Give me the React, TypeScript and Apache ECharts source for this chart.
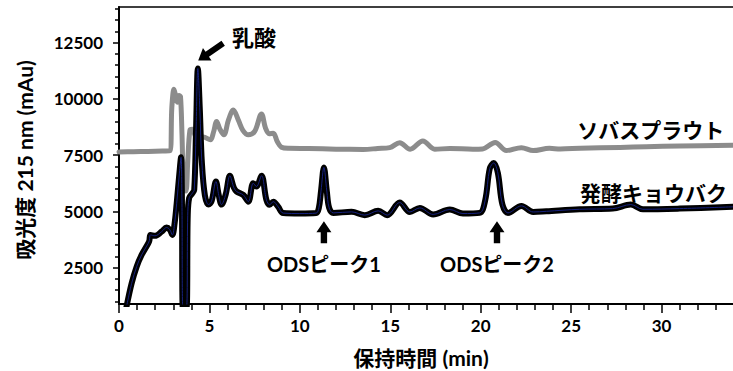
import React, { useEffect, useRef } from "react";
import * as echarts from "echarts";

const FONT = "Lato, 'Noto Sans CJK JP', sans-serif";

// Axis ranges and ticks
const xMin = 0;
const xMax = 35; // grid extends past the window; visible range ends near 34
const xInterval = 5;
const yMin = 880;
const yMax = 14080;
const yMajorTicks = [2500, 5000, 7500, 10000, 12500];
const yMinorTicks = [
  1000, 1500, 2000, 3000, 3500, 4000, 4500, 5500, 6000, 6500, 7000, 8000, 8500,
  9000, 9500, 10500, 11000, 11500, 12000, 13000, 13500, 14000,
];

// ソバスプラウト (retention time [min], absorbance [mAu])
const sobaSprout: [number, number][] = [
  [0, 7640], [0.8, 7650], [1.6, 7660], [2.4, 7680], [2.82, 7690], [2.92, 9600],
  [3.04, 10420], [3.14, 10100], [3.22, 9850], [3.32, 10150], [3.4, 10100],
  [3.48, 8500], [3.58, 6000], [3.7, 5900], [3.8, 7200], [3.92, 8600],
  [4.05, 8650], [4.3, 8280], [4.66, 8300], [5.05, 8180], [5.22, 8500],
  [5.4, 8990], [5.58, 8650], [5.8, 8400], [6.05, 9050], [6.32, 9500],
  [6.6, 9050], [6.85, 8600], [7.15, 8400], [7.5, 8550], [7.88, 9330],
  [8.1, 8700], [8.3, 8450], [8.53, 8470], [8.75, 8100], [8.98, 7850],
  [9.4, 7800], [10.5, 7790], [12, 7760], [13.5, 7750], [14.3, 7790],
  [14.97, 7830], [15.52, 8050], [16.1, 7760], [16.8, 8130], [17.46, 7760],
  [18.3, 7790], [19.57, 7760], [20.1, 7770], [20.8, 8060], [21.42, 7700],
  [22.25, 7830], [22.9, 7700], [23.8, 7800], [24.4, 7770], [25.5, 7800],
  [27.7, 7840], [29.15, 7870], [31, 7900], [34, 7940],
];

// 発酵キョウバク
const fermented: [number, number][] = [
  [0.4, 700], [0.7, 1800], [0.98, 2550], [1.25, 3060], [1.62, 3580], [1.68, 3700],
  [1.74, 3950], [1.99, 3910], [2.36, 4100], [2.63, 4280], [2.81, 4180],
  [2.95, 3950], [3.08, 4500], [3.19, 5360], [3.34, 6700], [3.43, 7400],
  [3.48, 5500], [3.53, 700], [3.73, 700], [3.8, 4800], [3.88, 5600],
  [4.05, 5800], [4.16, 5950], [4.26, 8600], [4.36, 11350], [4.47, 9500],
  [4.58, 7200], [4.75, 5700], [4.95, 5300], [5.12, 5450], [5.36, 6320],
  [5.52, 5700], [5.67, 5300], [5.9, 5750], [6.13, 6580], [6.35, 6050],
  [6.5, 5880], [6.87, 5730], [7.15, 5430], [7.42, 6250], [7.6, 6100],
  [7.88, 6580], [8.15, 5510], [8.33, 5290], [8.53, 5430], [8.8, 5200],
  [9.08, 4920], [10.0, 4900], [10.9, 4920], [11.05, 5150], [11.17, 5900],
  [11.33, 6950], [11.49, 5900], [11.62, 5150], [11.85, 4930], [12.86, 4975],
  [13.59, 4830], [14.33, 5020], [14.83, 4830], [15.52, 5390], [16.08, 4970],
  [16.63, 5150], [17.37, 4860], [18.29, 5080], [19.02, 4900], [19.94, 4930],
  [20.25, 5500], [20.5, 6900], [20.72, 7150], [20.95, 6700], [21.2, 5300],
  [21.51, 4930], [22.25, 5240], [22.9, 4970],
  [23.63, 5000], [25.47, 5090], [27.3, 5120], [28.3, 5300], [28.97, 5090],
  [31, 5120], [34, 5200],
];

// Annotations (data coordinates)
const seriesLabels = [
  { text: "ソバスプラウト", at: [29.4, 8620] },
  { text: "発酵キョウバク", at: [29.56, 5840] },
];
const peakLabels = [
  { text: "ODSピーク1", at: [11.33, 2660] },
  { text: "ODSピーク2", at: [20.9, 2660] },
];
const peakArrows = [
  { from: [11.33, 3580], to: [11.33, 4560] },
  { from: [20.9, 3580], to: [20.9, 4560] },
];
const lacticArrow = { from: [5.76, 12470], to: [4.38, 11700] };
const lacticLabel = { text: "乳酸", at: [7.46, 12710] };

const xTitle = "保持時間 (min)";
const yTitle = "吸光度 215 nm (mAu)";

function arrowPolygon(
  tail: number[],
  tip: number[],
  headLen: number,
  headHalf: number,
  shaftHalf: number
): number[][] {
  const dx = tip[0] - tail[0];
  const dy = tip[1] - tail[1];
  const len = Math.hypot(dx, dy) || 1;
  const ux = dx / len;
  const uy = dy / len;
  const nx = -uy;
  const ny = ux;
  const bx = tip[0] - ux * headLen;
  const by = tip[1] - uy * headLen;
  return [
    [tip[0], tip[1]],
    [bx + nx * headHalf, by + ny * headHalf],
    [bx + nx * shaftHalf, by + ny * shaftHalf],
    [tail[0] + nx * shaftHalf, tail[1] + ny * shaftHalf],
    [tail[0] - nx * shaftHalf, tail[1] - ny * shaftHalf],
    [bx - nx * shaftHalf, by - ny * shaftHalf],
    [bx - nx * headHalf, by - ny * headHalf],
  ];
}

export default function App() {
  const ref = useRef<HTMLDivElement>(null);

  useEffect(() => {
    if (!ref.current) return;
    const chart = echarts.init(ref.current, undefined, { renderer: "svg" });

    const tickStyle = { color: "#000", width: 1.5 };
    const lineBase = {
      type: "line",
      symbol: "none",
      smooth: 0.35,
      silent: true,
    };
    const option: any = {
      animation: false,
      grid: {
        left: 119,
        top: 7,
        width: 633,
        height: 297,
        show: true,
        borderColor: "#000",
        borderWidth: 1.5,
        backgroundColor: "transparent",
        outerBoundsMode: "none",
        containLabel: false,
      },
      xAxis: {
        type: "value",
        min: xMin,
        max: xMax,
        interval: xInterval,
        axisLine: { show: true, onZero: false, lineStyle: { color: "#000", width: 2 } },
        axisTick: { show: true, length: 9, lineStyle: tickStyle },
        minorTick: { show: true, splitNumber: 5, length: 6, lineStyle: tickStyle },
        axisLabel: {
          color: "#000",
          fontFamily: FONT,
          fontWeight: "bold",
          fontSize: 17,
          margin: 13,
          showMaxLabel: false,
          formatter: (v: number) => (v >= xMax ? "" : String(v)),
        },
        splitLine: { show: false },
        minorSplitLine: { show: false },
      },
      yAxis: [
        {
          type: "value",
          min: yMin,
          max: yMax,
          axisLine: { show: true, onZero: false, lineStyle: { color: "#000", width: 2 } },
          axisTick: { show: true, length: 6, customValues: yMajorTicks, lineStyle: tickStyle },
          axisLabel: {
            customValues: yMajorTicks,
            color: "#000",
            fontFamily: FONT,
            fontWeight: "bold",
            fontSize: 17,
            margin: 16,
            formatter: (v: number) => String(v),
          },
          splitLine: { show: false },
        },
        {
          type: "value",
          min: yMin,
          max: yMax,
          position: "left",
          offset: 0,
          axisLine: { show: false },
          axisTick: { show: true, length: 4, customValues: yMinorTicks, lineStyle: tickStyle },
          axisLabel: { show: false },
          splitLine: { show: false },
        },
      ],
      series: [
        {
          ...lineBase,
          data: sobaSprout,
          lineStyle: { color: "#8c8c8c", width: 5, join: "round", cap: "round" },
          z: 2,
        },
        {
          ...lineBase,
          data: fermented,
          lineStyle: { color: "#000", width: 6, join: "round", cap: "round" },
          z: 3,
        },
        {
          ...lineBase,
          data: fermented,
          lineStyle: { color: "#17227e", width: 1, join: "round", cap: "round" },
          z: 4,
        },
      ],
    };
    chart.setOption(option);

    const toPx = (p: number[]) =>
      chart.convertToPixel({ xAxisIndex: 0, yAxisIndex: 0 } as any, p) as number[];

    const textEl = (text: string, at: number[], size: number, rotation = 0) => ({
      type: "text",
      x: at[0],
      y: at[1],
      rotation,
      z: 100,
      style: {
        text,
        fill: "#000",
        fontFamily: FONT,
        fontWeight: "bold",
        fontSize: size,
        textAlign: "center",
        textVerticalAlign: "middle",
        align: "center",
        verticalAlign: "middle",
      },
    });

    const graphics: any[] = [];
    seriesLabels.forEach((l) => graphics.push(textEl(l.text, toPx(l.at), 21)));
    peakLabels.forEach((l) => graphics.push(textEl(l.text, toPx(l.at), 20)));
    graphics.push(textEl(lacticLabel.text, toPx(lacticLabel.at), 22));
    peakArrows.forEach((a) =>
      graphics.push({
        type: "polygon",
        z: 100,
        shape: { points: arrowPolygon(toPx(a.from), toPx(a.to), 11, 7.5, 3.2) },
        style: { fill: "#000" },
      })
    );
    graphics.push({
      type: "polygon",
      z: 100,
      shape: { points: arrowPolygon(toPx(lacticArrow.from), toPx(lacticArrow.to), 11, 7.5, 3) },
      style: { fill: "#000" },
    });
    graphics.push(textEl(xTitle, [421, 357], 21));
    graphics.push(textEl(yTitle, [24, 160], 21, Math.PI / 2));

    chart.setOption({ graphic: graphics });

    return () => chart.dispose();
  }, []);

  return (
    <div
      ref={ref}
      style={{ position: "absolute", left: 0, top: 0, width: 733, height: 371 }}
    />
  );
}
